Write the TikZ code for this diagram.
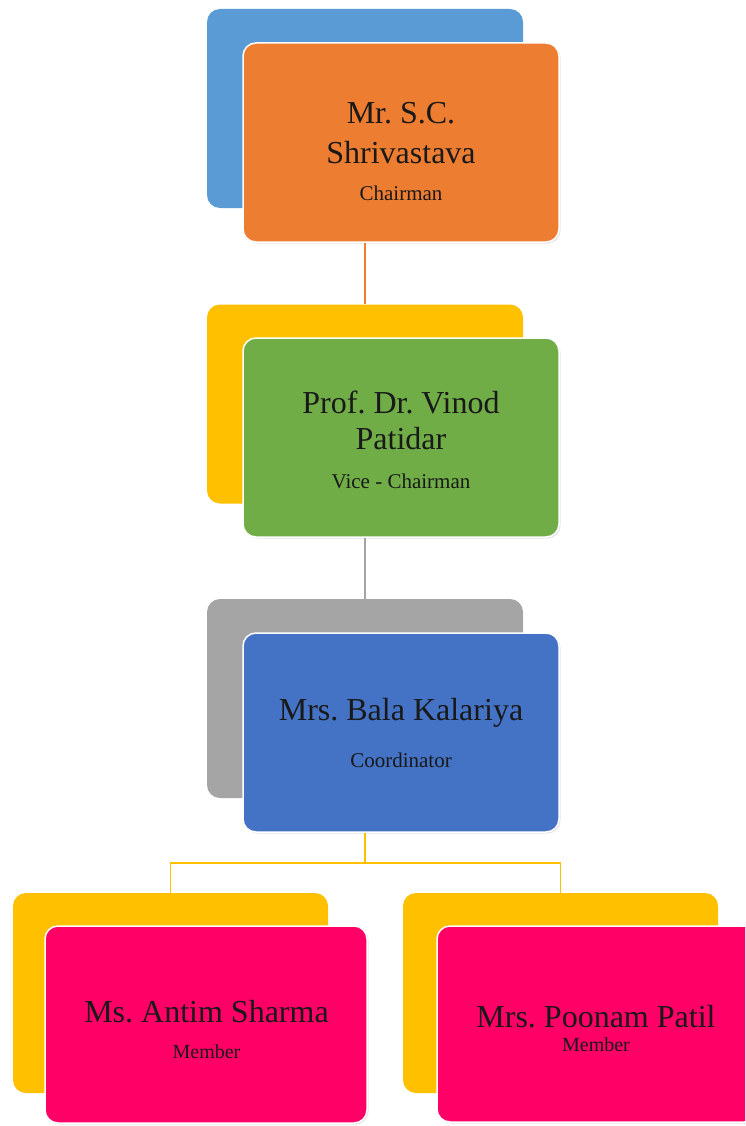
\documentclass[tikz,border=0pt]{standalone}
\usepackage{fontspec}
\setmainfont{Liberation Serif}
\frenchspacing
\usetikzlibrary{shadows}
\definecolor{skyblue}{HTML}{5B9BD5}
\definecolor{chairorange}{HTML}{ED7D31}
\definecolor{gold}{HTML}{FFC000}
\definecolor{vicegreen}{HTML}{70AD47}
\definecolor{silver}{HTML}{A5A5A5}
\definecolor{coordblue}{HTML}{4472C4}
\definecolor{memberpink}{HTML}{FF0066}
\newcommand{\firstline}{\rule{0pt}{25pt}}
\newcommand{\role}[2][21]{{\fontsize{#1}{#1}\selectfont #2}}
\tikzset{
  backbox/.style={rounded corners=13pt, minimum width=316pt, minimum height=199pt, inner sep=0pt},
  frontbox/.style={rounded corners=13pt, minimum width=316pt, minimum height=199pt, inner sep=0pt,
    draw=white, line width=1.5pt, drop shadow={opacity=.2, shadow xshift=1.5pt, shadow yshift=-1.5pt}},
  nametext/.style={anchor=north, align=center, inner sep=0pt, text=black!90, font=\fontsize{32}{38}\selectfont},
  link/.style={line width=1.5pt}
}
\begin{document}
\begin{tikzpicture}[x=1pt,y=-1pt]
            \path[use as bounding box, fill=white] (0,0) rectangle (745,1126);
            \clip (0,0) rectangle (745,1126);
            \node[backbox, fill=skyblue] (chairback) at (365,108.5) {};
            \node[frontbox, fill=chairorange] (chair) at (401,142.5) {};
            \node[backbox, fill=gold] (viceback) at (365,404) {};
            \node[frontbox, fill=vicegreen] (vice) at (401,437.5) {};
            \node[backbox, fill=silver] (coordback) at (365,698.5) {};
            \node[frontbox, fill=coordblue] (coord) at (401,732.5) {};
            \node[backbox, fill=gold, minimum width=315pt, minimum height=200pt] (antimback) at (170.5,993) {};
            \node[frontbox, fill=memberpink, minimum width=322pt, minimum height=197pt] (antim) at (206,1024.5) {};
            \node[backbox, fill=gold, minimum width=315pt, minimum height=200pt] (poonamback) at (560.5,993) {};
            \node[frontbox, fill=memberpink, minimum width=320pt, minimum height=196pt] (poonam) at (597,1024) {};
            \node[nametext] (chairtext) at (401,98) {\firstline Mr. S.C.\\[2pt]Shrivastava\\[-1pt]\role{Chairman}};
            \node[nametext] (vicetext) at (401,388) {\firstline Prof. Dr. Vinod\\[-2pt]Patidar\\[1pt]\role{Vice - Chairman}};
            \node[nametext] (coordtext) at (401,695) {\firstline Mrs. Bala Kalariya\\[9pt]\role{Coordinator}};
            \node[nametext] (antimtext) at (206.5,997) {\firstline Ms. Antim Sharma\\[-2pt]\role[20]{Member}};
            \node[nametext] (poonamtext) at (596,1002) {\firstline Mrs. Poonam Patil\\[-14pt]\role[20]{Member}};
            \coordinate (fork) at (365,863);
            \draw[link, chairorange] (chair.south -| chairback.south) -- (viceback.north);
            \draw[link, silver] (vice.south -| viceback.south) -- (coordback.north);
            \draw[link, gold] (coord.south -| coordback.south) -- (fork) -| (antimback.north);
            \draw[link, gold] (fork) -| (poonamback.north);
        \end{tikzpicture}
\end{document}
